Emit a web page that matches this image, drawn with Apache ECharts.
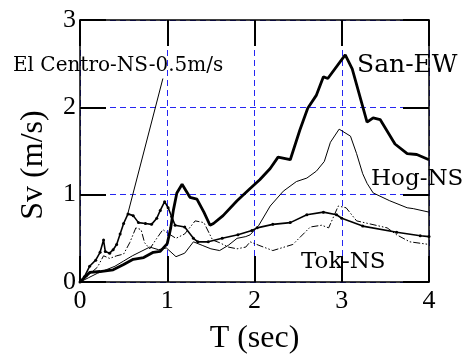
<!DOCTYPE html>
<html>
<head>
<meta charset="utf-8">
<script src="https://cdn.jsdelivr.net/npm/echarts@6/dist/echarts.min.js"></script>
<style>
  html, body { margin: 0; padding: 0; background: #fff; }
  #chart { width: 465px; height: 360px; }
</style>
</head>
<body>
<div id="chart"></div>
<script>
// period T (sec), Sv (m/s)
var sanEW = [[0,0],[0.11,0.11],[0.23,0.12],[0.38,0.14],[0.5,0.2],[0.61,0.26],[0.73,0.28],[0.84,0.34],[0.92,0.35],[1.0,0.44],[1.04,0.62],[1.07,0.82],[1.11,1.02],[1.17,1.12],[1.26,0.97],[1.34,0.95],[1.42,0.8],[1.49,0.65],[1.53,0.67],[1.64,0.76],[1.8,0.93],[1.95,1.07],[2.06,1.17],[2.18,1.3],[2.27,1.43],[2.41,1.4],[2.52,1.74],[2.61,1.99],[2.71,2.14],[2.79,2.35],[2.84,2.33],[3.04,2.6],[3.12,2.44],[3.29,1.83],[3.36,1.88],[3.44,1.86],[3.61,1.58],[3.75,1.47],[3.86,1.46],[4.0,1.4]];
var hogNS = [[0,0],[0.1,0.05],[0.2,0.1],[0.3,0.14],[0.4,0.18],[0.5,0.24],[0.6,0.3],[0.7,0.35],[0.8,0.4],[0.9,0.37],[0.99,0.39],[1.1,0.29],[1.2,0.33],[1.3,0.46],[1.4,0.42],[1.5,0.38],[1.6,0.36],[1.7,0.42],[1.8,0.5],[1.9,0.52],[1.95,0.54],[2.05,0.65],[2.18,0.87],[2.33,1.04],[2.48,1.15],[2.6,1.19],[2.71,1.27],[2.8,1.38],[2.87,1.6],[2.97,1.75],[3.1,1.67],[3.17,1.47],[3.24,1.24],[3.29,1.13],[3.36,1.02],[3.55,0.93],[3.75,0.85],[3.82,0.84],[4.0,0.8]];
var tokNS = [[0,0],[0.1,0.08],[0.2,0.17],[0.27,0.3],[0.34,0.27],[0.42,0.3],[0.5,0.32],[0.57,0.45],[0.64,0.62],[0.7,0.6],[0.74,0.45],[0.8,0.38],[0.88,0.5],[0.95,0.6],[1.02,0.55],[1.1,0.5],[1.2,0.55],[1.32,0.7],[1.42,0.68],[1.52,0.48],[1.6,0.45],[1.7,0.4],[1.8,0.38],[1.9,0.4],[1.95,0.46],[2.05,0.42],[2.21,0.36],[2.44,0.43],[2.64,0.63],[2.77,0.65],[2.85,0.62],[2.96,0.87],[3.05,0.85],[3.17,0.7],[3.52,0.62],[3.63,0.54],[3.78,0.46],[4.0,0.43]];
var elCentro = [[0,0],[0.05,0.06],[0.11,0.18],[0.18,0.25],[0.23,0.34],[0.27,0.48],[0.29,0.35],[0.34,0.33],[0.38,0.37],[0.42,0.43],[0.46,0.55],[0.5,0.67],[0.55,0.78],[0.61,0.76],[0.67,0.68],[0.75,0.67],[0.82,0.66],[0.88,0.73],[0.92,0.82],[0.97,0.92],[1.01,0.85],[1.05,0.75],[1.09,0.65],[1.2,0.63],[1.3,0.5],[1.35,0.46],[1.47,0.46],[1.63,0.5],[1.81,0.54],[1.97,0.59],[2.03,0.62],[2.21,0.66],[2.41,0.68],[2.6,0.77],[2.79,0.8],[2.94,0.77],[3.0,0.73],[3.24,0.64],[3.63,0.57],[3.9,0.53],[4.0,0.52]];
var leader = [[0.95,2.33],[0.55,0.79]];

var serif = 'Liberation Serif';

function gridStyle() {
    return {color: '#0000ee', width: 1, type: [6, 4], opacity: 0.85};
}

function axisX(pos, show) {
    return {
        type: 'value', position: pos, min: 0, max: 4, interval: 1,
        name: show ? 'T (sec)' : '', nameLocation: 'middle', nameGap: 41,
        nameTextStyle: {fontFamily: serif, fontSize: 32, color: '#000'},
        axisLine: {show: true, onZero: false, lineStyle: {color: '#000', width: 1.5}},
        axisTick: {show: true, inside: true, length: 26, lineStyle: {color: '#000', width: 2}},
        axisLabel: {show: show, margin: 6, fontFamily: serif, fontSize: 26, color: '#000'},
        splitLine: {show: show, lineStyle: gridStyle()}
    };
}
function axisY(pos, show) {
    return {
        type: 'value', position: pos, min: 0, max: 3, interval: 1,
        name: show ? 'Sv (m/s)' : '', nameLocation: 'middle', nameGap: 30,
        nameTextStyle: {fontFamily: serif, fontSize: 32, color: '#000', padding: [0, 28, 0, 0]},
        axisLine: {show: true, onZero: false, lineStyle: {color: '#000', width: 1.5}},
        axisTick: {show: true, inside: true, length: 26, lineStyle: {color: '#000', width: 2}},
        axisLabel: {show: show, margin: 4, fontFamily: serif, fontSize: 26, color: '#000'},
        splitLine: {show: show, lineStyle: gridStyle()}
    };
}

var myChart = echarts.init(document.getElementById('chart'), null, {renderer: 'canvas'});

var option = {
    backgroundColor: '#fff',
    animation: false,
    grid: {left: 80, right: 36, top: 20, bottom: 72},
    xAxis: [axisX('bottom', true), axisX('top', false)],
    yAxis: [axisY('left', true), axisY('right', false)],
    graphic: [
        {type: 'text', left: 13, top: 56, style: {text: 'El Centro-NS-0.5m/s', font: '20px "DejaVu Serif"', fill: '#000'}},
        {type: 'text', left: 357, top: 53, style: {text: 'San-EW', font: '25px "DejaVu Serif"', fill: '#000'}},
        {type: 'text', left: 371, top: 168, style: {text: 'Hog-NS', font: '23px "DejaVu Serif"', fill: '#000'}},
        {type: 'text', left: 301, top: 251, style: {text: 'Tok-NS', font: '23px "DejaVu Serif"', fill: '#000'}}
    ],
    series: [
        {
            name: 'Tok-NS', type: 'line', data: tokNS, showSymbol: false, z: 3,
            lineStyle: {color: '#000', width: 1, type: [7, 2, 1.5, 2, 1.5, 2]}
        },
        {
            name: 'Hog-NS', type: 'line', data: hogNS, showSymbol: false, z: 3,
            lineStyle: {color: '#000', width: 1}
        },
        {
            name: 'El Centro-NS-0.5m/s', type: 'line', data: elCentro, z: 3,
            symbol: 'circle', symbolSize: 3, itemStyle: {color: '#000'},
            lineStyle: {color: '#000', width: 1.6},
            markLine: {
                silent: true, symbol: 'none', label: {show: false},
                lineStyle: {color: '#000', width: 1, type: 'solid'},
                data: [[{coord: leader[0]}, {coord: leader[1]}]]
            }
        },
        {
            name: 'San-EW', type: 'line', data: sanEW, showSymbol: false, z: 3,
            lineStyle: {color: '#000', width: 2.8}
        }
    ]
};
myChart.setOption(option);
</script>
</body>
</html>
